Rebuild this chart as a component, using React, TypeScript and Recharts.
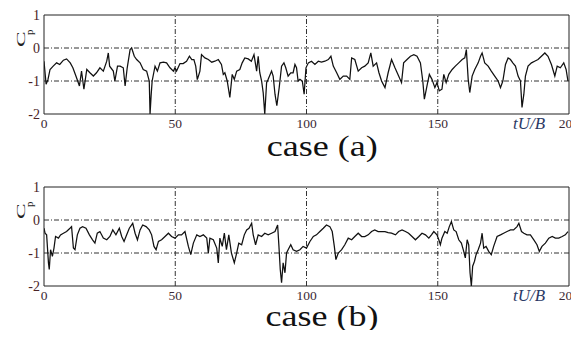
import { LineChart, Line, XAxis, YAxis, ReferenceLine } from 'recharts'

// Pressure coefficient traces (tU/B vs Cp)
const timeA = [0, 0.8, 1.5, 2.3, 3.5, 4.8, 6, 7.4, 8.6, 10, 11, 12.4, 13.5, 14.3, 15.2, 16.3, 17.5, 18.8, 20, 21.3, 22.6, 23.9, 24.5, 25, 26.4, 27, 28, 29, 30.2, 30.9, 31.7, 32.8, 33.4, 34.4, 35.3, 36.6, 37.8, 39.1, 40.1, 40.4, 40.8, 41.2, 42.3, 43.2, 44.2, 45.5, 46.7, 48, 49.3, 49.9, 50.5, 51.8, 53, 54.3, 55.4, 56.3, 57.1, 57.8, 58.4, 59.4, 60, 61.3, 62.6, 63.9, 65.1, 66.4, 67.6, 68.3, 68.9, 69.8, 70.8, 71.7, 72.5, 73.4, 74.6, 75.5, 76.5, 77.8, 79, 80, 81, 81.6, 82.2, 82.9, 83.5, 84.1, 84.8, 85.4, 86.7, 87.3, 88, 88.7, 89.6, 90.5, 91.4, 92.1, 93, 94, 94.9, 95.6, 96.2, 96.8, 97.5, 98.4, 99.1, 99.8, 100.7, 101.9, 103.2, 104.5, 105.7, 107, 108.3, 109.3, 110.2, 111.5, 112.7, 114, 115.3, 116.5, 117.2, 118.4, 119.7, 121, 122.2, 123.5, 124.5, 125.4, 126.7, 127.6, 128.6, 129.9, 131.1, 132.4, 133.7, 135.1, 136.2, 137, 138.3, 139.6, 140.9, 142.1, 143.4, 144.3, 144.9, 145.9, 146.8, 147.8, 148.9, 149.7, 150.6, 151.6, 152.3, 153.2, 154.2, 155.5, 156.7, 158, 159.3, 160.3, 160.9, 161.6, 162.2, 163.1, 164.1, 165.4, 166.3, 166.9, 167.9, 169.2, 170.4, 171.7, 173, 173.9, 174.8, 175.8, 176.8, 177.7, 178.6, 179.6, 180.6, 181.5, 182.1, 182.8, 183.4, 184.4, 185.7, 186.9, 188.2, 189.5, 190.8, 192, 193.3, 194.6, 195.5, 196.7, 198, 198.9, 199.6]
const cpA = [-0.4, -1.1, -0.96, -0.65, -0.55, -0.45, -0.5, -0.37, -0.33, -0.45, -0.6, -0.9, -1.15, -0.7, -1.25, -0.65, -0.75, -0.85, -0.75, -0.6, -0.7, -0.4, -0.15, -0.55, -0.7, -1.0, -0.55, -0.55, -0.6, -1.15, -0.6, -0.05, 0.0, -0.25, -0.35, -0.45, -0.65, -0.7, -1.0, -2.0, -1.45, -1.0, -0.55, -0.7, -0.45, -0.43, -0.45, -0.6, -0.7, -0.6, -0.7, -0.47, -0.47, -0.4, -0.25, -0.35, -0.35, -0.55, -0.96, -0.7, -0.2, -0.3, -0.35, -0.43, -0.4, -0.35, -0.5, -0.8, -0.75, -1.0, -1.5, -0.8, -0.95, -0.7, -0.65, -0.45, -0.3, -0.33, -0.4, -0.2, -0.7, -0.25, -0.75, -1.0, -1.35, -2.0, -1.05, -0.95, -0.7, -0.85, -1.4, -1.75, -1.2, -0.55, -0.45, -0.6, -0.85, -0.75, -0.75, -0.5, -0.6, -1.0, -0.95, -1.0, -1.4, -0.6, -0.45, -0.4, -0.5, -0.4, -0.43, -0.4, -0.35, -0.25, -0.55, -0.75, -0.95, -0.85, -0.85, -0.95, -0.3, -0.35, -0.7, -0.6, -0.55, -0.45, -0.15, -0.55, -0.45, -0.75, -1.0, -1.2, -0.75, -0.35, -0.6, -0.85, -1.05, -0.45, -0.35, -0.25, -0.2, -0.25, -0.45, -1.0, -1.55, -1.15, -0.8, -0.95, -1.2, -1.05, -1.3, -1.25, -0.8, -1.05, -0.8, -0.65, -0.55, -0.45, -0.35, -0.3, -0.05, -0.95, -1.35, -0.85, -0.65, -0.45, -0.25, -0.15, -0.45, -0.55, -0.7, -0.85, -1.0, -1.2, -1.0, -0.5, -0.3, -0.35, -0.45, -0.55, -0.85, -1.0, -1.8, -1.4, -0.85, -0.55, -0.45, -0.4, -0.35, -0.25, -0.15, -0.25, -0.5, -0.85, -0.55, -0.6, -0.45, -0.65, -1.0]

const timeB = [0, 0.4, 1, 1.7, 2, 2.5, 3.2, 3.8, 4.4, 5.5, 6.3, 7.4, 8.6, 9.9, 10.5, 11.2, 11.8, 12.7, 13.7, 14.7, 16, 17.3, 18.5, 19.4, 20.3, 21.3, 22.6, 23.9, 25.1, 26.2, 27.4, 28.7, 29.6, 30.5, 31.5, 32.5, 33.8, 34.7, 35.6, 36.6, 37.6, 38.9, 40.1, 41, 41.9, 42.7, 43.6, 44.8, 46.1, 47.4, 48.6, 49.9, 51.2, 52.4, 53.7, 55, 55.9, 56.9, 58.2, 59.4, 60.7, 62, 62.6, 63.2, 64.5, 65.8, 66.4, 67, 67.9, 68.7, 69.5, 70.4, 71.4, 72.5, 73.4, 74.2, 75.3, 76.3, 77.2, 78.1, 79.1, 79.7, 80.6, 81.6, 82.9, 84.1, 85.4, 86.7, 88, 89, 89.5, 90, 90.5, 91.1, 91.8, 92.4, 93, 94, 94.9, 96.2, 97.5, 98.7, 100, 101.3, 102.6, 103.8, 105.1, 106.4, 107.6, 108.9, 109.8, 110.6, 111.2, 112.1, 113.4, 114.6, 115.9, 117.2, 118.4, 119.7, 121, 122.2, 123.5, 124.8, 126, 127.3, 128.6, 129.9, 131.1, 132.4, 133.9, 135.1, 136.4, 137.7, 138.9, 140.2, 141.5, 142.8, 144, 145.3, 146.6, 147.6, 148.5, 149.7, 150.4, 151, 151.6, 152.7, 153.6, 154.4, 155.2, 156.1, 157, 158, 159, 159.9, 160.5, 161.2, 161.8, 162.3, 162.8, 163.3, 164, 164.6, 165.4, 166.3, 166.9, 167.5, 168.4, 169.4, 170.4, 171.3, 172.6, 173.9, 175.1, 176.4, 177.7, 178.9, 180.2, 180.9, 181.9, 182.8, 184, 185.3, 186.6, 187.8, 188.7, 189.7, 191, 192.3, 193.6, 194.8, 196.1, 197.4, 198.6, 199.6]
const cpB = [-0.25, -0.4, -0.45, -1.3, -1.5, -0.9, -1.1, -0.85, -0.5, -0.55, -0.45, -0.4, -0.35, -0.25, -0.2, -0.85, -0.9, -0.45, -0.25, -0.2, -0.25, -0.45, -0.6, -0.7, -0.4, -0.35, -0.55, -0.6, -0.5, -0.3, -0.45, -0.25, -0.5, -0.65, -0.45, -0.25, -0.1, -0.4, -0.6, -0.3, -0.15, -0.2, -0.3, -0.45, -0.8, -0.9, -0.65, -0.6, -0.5, -0.4, -0.5, -0.55, -0.45, -0.45, -0.35, -0.8, -1.05, -0.7, -0.45, -0.5, -0.45, -0.55, -1.0, -0.55, -0.6, -0.85, -1.3, -0.55, -0.8, -0.4, -0.9, -0.45, -1.0, -1.3, -1.0, -0.7, -0.75, -0.45, -0.3, -0.25, -0.1, -0.45, -0.75, -0.45, -0.5, -0.4, -0.45, -0.4, -0.35, -0.15, -0.8, -1.5, -1.9, -1.3, -1.6, -1.0, -0.9, -0.75, -0.9, -0.95, -0.9, -0.8, -0.85, -0.65, -0.5, -0.45, -0.35, -0.25, -0.15, -0.2, -0.35, -0.8, -1.2, -1.0, -0.9, -0.75, -0.55, -0.6, -0.5, -0.4, -0.5, -0.5, -0.45, -0.35, -0.3, -0.35, -0.35, -0.35, -0.38, -0.4, -0.45, -0.35, -0.3, -0.35, -0.4, -0.5, -0.6, -0.5, -0.4, -0.45, -0.55, -0.45, -0.35, -0.45, -0.6, -0.75, -0.55, -0.35, -0.4, -0.2, -0.05, -0.3, -0.35, -0.6, -0.7, -0.95, -1.15, -0.6, -0.75, -1.6, -2.0, -1.4, -1.25, -1.05, -0.9, -0.7, -0.4, -0.85, -0.8, -0.95, -1.05, -0.8, -0.5, -0.45, -0.4, -0.35, -0.3, -0.3, -0.2, -0.1, -0.35, -0.4, -0.45, -0.45, -0.6, -0.75, -0.95, -0.8, -0.7, -0.55, -0.5, -0.55, -0.55, -0.5, -0.45, -0.35]

const xTicks = [0, 50, 100, 150, 200]
const yTicks = [1, 0, -1, -2]
const gridX = [50, 100, 150]
const gridY = [0, -1]

const SERIF = '"Liberation Serif", "Times New Roman", serif'
const DASH_DOT = '5 2 1 2'

function CpLabel() {
  return (
    <g fontFamily={SERIF} fill="#222">
      <text transform="translate(25,47) rotate(-90) scale(1.3,0.75)" fontSize={18}>C</text>
      <text transform="translate(33,35) rotate(-90)" fontSize={11}>p</text>
    </g>
  )
}

function TimeLabel(props: any) {
  const vb = props.viewBox
  return (
    <text x={vb.x + vb.width - 56} y={vb.y + 15} fontFamily={SERIF} fontStyle="italic" fontSize={17} fill="#2b3a66">
      tU/B
    </text>
  )
}

function Panel({ times, values, caption, top, captionTop }: { times: number[]; values: number[]; caption: string; top: number; captionTop: number }) {
  const data = times.map((t, i) => ({ t, cp: values[i] }))
  return (
    <div style={{ position: 'absolute', left: 0, top, width: 579, height: 166 }}>
      <LineChart width={579} height={134} data={data} margin={{ top: 15, right: 10, bottom: 0, left: 0 }}>
        <XAxis
          dataKey="t"
          type="number"
          domain={[0, 200]}
          ticks={xTicks}
          tickLine={false}
          tickMargin={-2}
          height={20}
          axisLine={{ stroke: '#222' }}
          tick={{ fontFamily: SERIF, fontSize: 13.5, fill: '#3a2a35' }}
          label={{ content: TimeLabel }}
          allowDataOverflow
        />
        <YAxis
          type="number"
          domain={[-2, 1]}
          ticks={yTicks}
          tickLine={false}
          tickSize={4}
          tickMargin={0}
          width={44}
          axisLine={{ stroke: '#222' }}
          tick={{ fontFamily: SERIF, fontSize: 14, fill: '#4a2326' }}
          label={{ content: CpLabel }}
          allowDataOverflow
        />
        {gridY.map((v) => (
          <ReferenceLine key={'y' + v} y={v} stroke="#333" strokeDasharray={DASH_DOT} />
        ))}
        {gridX.map((v) => (
          <ReferenceLine key={'x' + v} x={v} stroke="#333" strokeDasharray={DASH_DOT} />
        ))}
        <ReferenceLine y={1} stroke="#222" />
        <ReferenceLine x={200} stroke="#222" />
        <Line
          dataKey="cp"
          type="linear"
          stroke="#111"
          strokeWidth={1.25}
          dot={false}
          isAnimationActive={false}
        />
      </LineChart>
      <div
        style={{
          position: 'absolute',
          left: 0,
          width: 645,
          top: captionTop,
          textAlign: 'center',
          fontFamily: SERIF,
          fontSize: 30,
          color: '#111',
          lineHeight: '20px',
        }}
      >
        <span style={{ display: 'inline-block', lineHeight: '20px', transform: 'scaleX(1.2)', transformOrigin: 'center' }}>{caption}</span>
      </div>
    </div>
  )
}

export default function App() {
  return (
    <div style={{ position: 'relative', width: 579, height: 338, margin: -8, background: '#fff', overflow: 'hidden' }}>
      <Panel times={timeA} values={cpA} caption="case (a)" top={0} captionTop={135.5} />
      <Panel times={timeB} values={cpB} caption="case (b)" top={172} captionTop={133.5} />
    </div>
  )
}
